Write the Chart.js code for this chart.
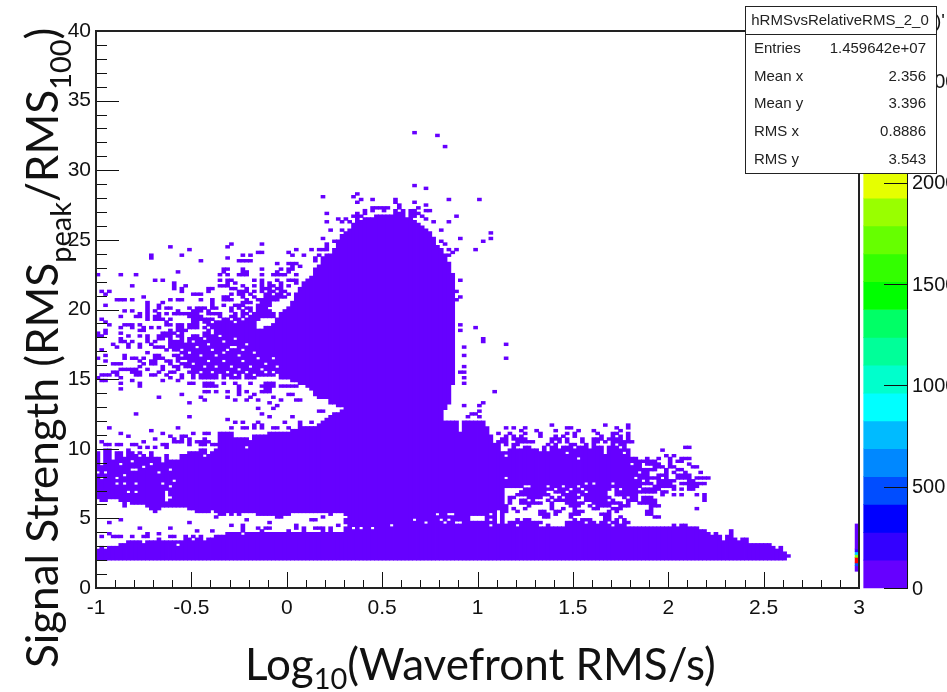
<!DOCTYPE html>
<html>
<head>
<meta charset="utf-8">
<script src="https://cdn.jsdelivr.net/npm/chart.js@4"></script>
<style>
html, body { margin: 0; padding: 0; background: #fff; overflow: hidden; }
#wrap { width: 947px; height: 692px; }
</style>
</head>
<body>
<div id="wrap"><canvas id="c" width="947" height="692"></canvas></div>
<script>
// histogram binning: 200 x 200 bins, x -1..3, y 0..40
const xBinStart = -1, xBinWidth = 0.02, yBinWidth = 0.2;

// tick labels
const xMajorTicks = [-1, -0.5, 0, 0.5, 1, 1.5, 2, 2.5, 3];
const yMajorTicks = [0, 5, 10, 15, 20, 25, 30, 35, 40];
const paletteTicks = [0, 500, 1000, 1500, 2000, 2500];
const statsNames = ["Entries", "Mean x", "Mean y", "RMS x", "RMS y"];
const statsValues = ["1.459642e+07", "2.356", "3.396", "0.8886", "3.543"];

// top of the low band, one value per x bin from bin 0, all start at y = 2
const bandTop = [
  2.8,3.0,2.8,3.0,3.0,3.0,3.2,3.2,3.4,3.4,3.4,3.4,3.2,3.4,3.4,3.4,3.6,3.4,3.4,3.4,
  3.4,3.4,3.4,3.6,3.6,3.4,3.6,3.6,3.4,3.6,3.6,3.6,3.6,3.8,4.0,4.0,4.0,4.0,3.8,4.0,
  4.0,4.0,4.0,4.0,4.0,4.0,4.0,4.0,4.0,4.0,4.0,4.0,4.0,4.0,4.0,4.0,4.0,4.0,4.0,4.0,
  4.0,4.0,4.0,4.0,4.0,4.0,4.0,4.0,4.0,4.0,4.0,4.0,4.0,4.0,4.0,4.0,4.0,4.0,4.0,4.0,
  4.0,4.0,4.0,4.0,4.0,4.0,4.0,4.0,4.0,4.0,4.0,4.0,4.2,4.2,4.2,4.2,4.2,4.2,4.2,4.2,
  4.2,4.2,4.2,4.2,4.2,4.4,4.4,4.4,4.4,4.4,4.4,4.4,4.4,4.4,4.4,4.4,4.4,4.4,4.4,4.4,
  4.4,4.4,4.4,4.4,4.4,4.4,4.4,4.4,4.4,4.4,4.4,4.4,4.4,4.4,4.4,4.4,4.4,4.4,4.4,4.4,
  4.4,4.4,4.4,4.4,4.4,4.4,4.4,4.4,4.4,4.4,4.4,4.4,4.4,4.4,4.4,4.4,4.4,4.4,4.2,4.2,
  4.0,3.8,4.0,3.8,3.4,3.8,4.2,3.6,3.4,3.6,3.6,3.2,3.2,3.2,3.2,3.2,3.2,3.0,2.8,3.0,
  2.6
];

// left wing around y = 8, bins 0..106
const wingLow = [
  6.4,6.2,6.2,6.4,6.4,6.4,6.2,5.8,6.2,6.0,6.0,6.0,6.0,5.8,5.6,5.4,5.6,5.8,5.8,5.8,
  5.8,5.8,5.8,5.8,5.6,5.6,5.4,5.4,5.4,5.4,5.6,5.4,5.2,5.2,5.4,5.2,5.4,5.2,5.4,5.4,
  5.4,5.4,5.2,5.2,5.2,5.2,5.2,5.0,5.0,5.2,5.2,5.4,5.4,5.4,5.4,5.4,5.4,5.4,5.4,5.4,
  5.4,5.4,5.4,5.4,5.4,4.0,4.0,4.0,4.0,4.0,4.0,4.0,4.0,4.0,4.0,4.0,4.0,4.0,4.0,4.0,
  4.0,4.0,4.0,4.0,4.0,4.0,4.0,4.0,4.0,4.0,4.0,4.0,4.0,4.0,4.0,4.0,4.0,4.0,4.0,4.0,
  4.0,4.0,4.0,4.0,4.0,4.0,4.0
];
const wingHigh = [
  9.8,9.0,10.0,10.0,9.2,9.8,9.8,9.4,10.0,9.8,9.6,9.8,9.6,9.4,9.8,9.4,9.4,9.0,9.6,9.2,
  9.2,9.2,9.6,9.6,9.8,9.8,9.8,10.0,10.0,9.6,9.8,10.0,11.2,11.2,11.2,11.2,10.8,10.8,10.8,10.8,
  10.6,11.0,11.0,11.0,11.0,11.2,11.2,11.2,11.2,11.2,11.2,11.4,11.4,11.4,11.6,11.6,11.6,11.6,11.8,12.0,
  12.2,12.4,12.6,12.6,12.8,13.0,13.0,13.0,13.0,13.0,13.0,13.0,13.0,13.0,13.0,13.0,13.0,13.0,13.0,13.0,
  13.0,13.0,13.0,13.0,13.0,13.0,13.0,13.0,13.0,13.0,13.0,12.0,12.0,12.0,12.0,12.0,12.0,12.0,12.0,12.0,
  12.0,12.0,11.6,11.0,10.4,10.2,9.8
];

// main lobe, bins 42..93
const coreStart = 42;
const coreLow = [
  15.2,15.2,15.2,15.2,15.2,15.2,15.0,15.0,15.0,14.8,14.8,14.6,14.6,14.4,14.2,13.8,13.6,13.6,13.6,13.2,
  13.2,13.0,13.0,12.8,4.0,4.0,4.0,4.0,4.0,4.0,4.0,4.0,4.0,4.0,4.0,4.0,4.0,4.0,4.0,4.0,
  4.0,4.0,4.0,4.0,4.0,4.0,4.0,4.0,4.0,12.8,13.2,14.6
];
const coreHigh = [
  18.6,18.6,18.8,18.8,19.0,19.4,19.8,20.0,20.2,20.6,21.0,21.6,22.0,22.2,22.4,23.0,23.2,23.8,24.0,24.0,
  24.2,25.0,25.4,25.6,25.8,26.2,26.4,26.4,26.6,26.6,26.6,26.6,26.6,26.6,26.6,26.8,26.8,26.8,26.8,26.6,
  26.6,26.4,26.2,26.0,25.8,25.6,25.2,24.6,24.4,24.0,23.4,22.6
];

// dense patch left of the lobe, bins 23..41
const patchStart = 23;
const patchLow = [15.6,15.4,15.0,15.2,15.0,15.0,15.0,15.0,15.0,15.2,15.0,15.2,15.0,15.0,15.0,15.2,15.0,15.0,15.0];
const patchHigh = [17.6,18.0,18.2,18.2,18.0,18.4,18.6,18.2,18.6,18.8,19.0,19.0,18.8,19.0,19.2,19.2,19.2,19.2,19.4];

// right wing, bins 107..143
const rightStart = 107;
const rightLow = [
  7.2,7.2,7.2,7.2,7.2,7.2,7.2,7.2,7.2,7.2,7.2,7.2,7.2,7.2,7.2,7.2,7.2,7.2,7.2,7.2,
  7.2,7.2,7.2,7.2,7.2,7.2,7.2,7.2,7.2,7.2,7.2,7.2,7.4,7.6,8.0,8.4,8.8
];
const rightHigh = [
  10.0,10.0,10.2,10.0,10.0,10.2,10.2,10.0,10.0,10.0,10.2,10.0,10.2,10.2,10.0,10.2,10.2,10.2,10.0,10.2,
  10.2,10.2,10.0,10.2,10.2,10.2,10.0,10.2,10.2,10.2,10.0,10.2,10.0,9.6,9.4,9.2,8.8
];

// single filled bins, each row is [y bin, x bins...]
const scatterLeft = [
  [123,35,43],[122,19,34],[121,24,52,56],[120,42,43,50],[119,14,22,38,40,51,54],[118,14,34],
  [117,27,37,38,39,40],[116,47,50,51,52],[114,33,34,38,43,48,50,51],[113,21,33,38,39,47,50],
  [112,0,6,10,32,34,37,38,39,43,46,47,48,49,52],[110,15,17,32,34,35,41,43,47,50,51,52],
  [109,20,34,36,43,45,48,52],[108,9,20,23,32,33,34,38,41,43,45,46,48,50],
  [107,20,22,29,30,35,36,39,43,44,45,47,48],[106,1,3,22,29,37,38,39,41,43,45,46,48,49],
  [105,2,25,26,27,35,37,38,40,44,45,47,48,50,52],[104,12,33,34,38,41,44,45,46,47,48,49],
  [103,5,6,7,9,19,21,22,27,30,33,34,35,39,42,43,44,45,46,47],[102,13,17,30,38,39,40,43,44,45],
  [101,2,13,16,30,33,36,37,38,42,43,44,45],[100,13,16,18,19,24,26,27,28,30,31,35,37,39,40,42,43,44],
  [99,7,9,13,15,21,25,26,27,29,35,38,40,42,43,44,45],
  [98,11,13,16,18,20,21,22,23,24,25,26,29,30,31,32,36,38,39,41,42,43,44,45,46],
  [97,6,10,11,13,15,16,24,25,26,27,32,35,36,38,40,41,42,43,44,45,46],
  [96,1,13,15,16,17,19,25,26,27,28,29,30,33,34,36,37,39,40,41,42],
  [95,2,18,25,26,28,29,31,32,33,34,35,37,38,39,40,41],
  [94,3,7,8,9,11,18,19,21,22,24,25,26,29,30,31,32,33,34,35],
  [93,6,9,12,14,16,21,22,24,25,26,28,30,31,32],[92,2,11,12,19,21,22,23],
  [91,0,2,6,17,18,19,20,22],[90,0,1,8,11,13,16,17,18,19,21,22],[89,6,13,16,17,19,22],
  [88,6,7,9,13,15,19,20,21,22],[87,4,8,11,14,19,20,21,22],[86,5,8,11,15,16,17,19,20,21,22],
  [85,1,18,20,21],[84,13,22],[83,2,7,15,16,20,21],[82,0,7,9,10,12,15,16,17,21,22],
  [81,2,11,14,15,18,19,21],[80,4,5,6,12,14,15,19,22],[79,11,17,20,21],[78,6,7,8,9,10,13,17,21],
  [77,4,5,9,10,11,16,19,20],[76,1,2,3,5,10,11,14,15,18,22],[75,0,6,19,22],[74,1,2,9,17,21],
  [73,6,11,24,25,28,29,30,33,36,40,44,45,46],
  [72,11,28,29,30,31,37,43,44,45,46,48,49,50,51,52],[71,6,37,44,45],
  [70,28,29,31,34,37,39,43,44,45],[69,22,37,41,50,51],[68,16,27,34,40,46],
  [67,28,36,39,42,48,52,53],[66,24,45],[65,47],[64,42,46],[63,58,59],[62,10,43],[61,24,45,51],
  [60,34],[59,36,38,42,49,53,56],[58,41,43,53],[57,3,21,35,38,39,41,43,46,47,50,53],[56,14],
  [55,6,17,25,28,29],[54,8,19,22,23],[53,15,20,22,24,28],[52,1,12,20,21,22,24,26,27,28,29],
  [51,2,3,5,6,9,10,17,18,24,27,28,30,31],[50,11,13,15,18]
];
const scatterLobe = [
  [163,83],[162,89],[158,91],[144,83],[143,86],[141,68],[140,59,67],
  [139,69,72,78,92,100],[138,68,78,83],[137,79,86],[136,72,73,74,75,76,79,84],
  [135,70,72,75,78,80,82,83,86,87],[134,60,68,70,78,79,80,82,83,84],
  [133,67,68,69,73,74,75,76,77,78,79,80,82,83,85,94],[132,63,65,68,72,73,75,76,77,78,79,80,81,86],
  [131,60,64,66,88,92],[128,61,64,90],[127,103],[125,59,95,103],[124,62,90,101],
  [123,60,91],[122,60],[121,52,56,58,59,60,62,92,94,99],[120,93],[119,51,54,58,92],
  [118,57],[117,57],[116,51],[115,51,53],[110,95],[106,94],[104,95],[103,94]
];
const scatterRightOfLobe = [
  [94,95],[93,99],[92,95],[89,101],[88,101],[87,107],[86,93,96],[83,96],[82,107],[79,96],
  [77,95,96],[75,96],[73,96],[70,104],[66,101],[65,96,100],[63,100],[62,98,99],[61,97,100]
];
const scatterStrip = [
  [26,61],[25,31,59],[24,6,39,56,57],[23,3,24,45],[22,35,38,52,63],
  [21,11,19,38,42,44,45,52,54,57,58,59,61],[20,26,30,38,43,50,54,59,61],
  [19,3,13,16],[18,1,4,5,6,9,12,13,19,20,23,25,27,31,32]
];
const scatterRight = [
  [58,119,133,139],[57,107,109,112,123,124,136,139],[56,111,115,120,126,130,137],
  [55,105,108,112,116,123,125,131,135,136,139],[54,103,107,109,111,116,120,122,125,132,135,137,139],
  [53,103,106,107,109,110,111,112,119,120,121,123,127,130,131,132,134,135,136,137,139],
  [52,103,105,106,107,110,111,112,113,114,119,121,123,127,130,131,133,135,136,137,138,139,140],
  [51,103,105,107,109,110,118,120,124,125,128,130,135,137,138],
  [35,112,113,114,115,116,117,118,119,121,122,123,125,126,128,129,130,131,132,133,134,136,138,139,140,141],
  [34,111,112,113,114,115,116,117,120,121,122,124,125,126,127,129,130,131,132,133,136,137,138,139,140,141],
  [33,110,111,112,113,114,115,116,117,118,122,123,124,125,127,128,129,130,131,132,133,136,137,138,139,140,141],
  [32,108,109,113,114,115,116,119,121,123,124,125,126,128,129,130,131,132,133,134,138,140,141],
  [31,108,111,112,114,118,120,121,122,123,124,125,128,129,130,131,132,133,135,139,140,141],
  [30,108,111,112,113,114,115,116,119,123,124,125,126,127,130,131,132,133,134,135,136,137,139,142],
  [29,107,113,119,124,125,126,129,131,132,133,134,137,138,139],
  [28,107,109,112,119,122,125,130,131,135,136,137],
  [27,107,110,116,117,120,121,125,126,127,134,136],
  [26,116,117,118,120,124,125,126,132,133,134],
  [25,117,118,124,133,134,137],
  [24,110,112,113,125,127,128,129,133,134,136,138],
  [23,108,109,110,111,112,113,114,115,116,123,124,125,126,127,129,130,132,133,135,136,138,139],
  [22,107,108,109,111,112,113,114,115,118,123,124,125,126,127,128,129,130,131,132,133,134,136,137,138,151,153,154]
];
const scatterFarRight = [
  [50,154,155],[49,148],[47,149,151],[46,144,147,150,153,154,155],[45,143,144,145,146,150,152,153],
  [44,142,144,145,146,147,150,155],[43,146,147,148,150,151,156,157],[42,143,144,145,146,149,152,153],
  [41,143,144,149,151,154,158],[40,141,142,143,144,147,148,149,152,153,154,155],
  [39,140,142,143,144,145,146,147,149,152,153,154,155,157,158,159,160],
  [38,141,142,144,147,148,149,150,151,155,156],
  [37,140,141,142,143,144,145,147,148,149,150,153,154,155,156,157,158,159],
  [36,139,140,141,142,146,147,148,149,150,151,155,156,157],[35,141,143,144,145,146,147,151,153,155,156],
  [34,140,141,142,143,144,145,146,148,149],[33,148,151,153,157,159],[32,143,144,145,159],
  [31,143,144,145,146,159],[30,143,144,145,146],[29,145,146,147],[28,145,157],[27,144,145],
  [26,144,145],[25,146,147],[11,181]
];
// empty bins inside the filled regions, [x bin, y bin]
const emptyBins = [
  [1,47],[1,44],[0,41],[2,41],[4,47],[7,47],[6,44],[9,45],[11,47],[12,43],[14,44],[9,42],[10,42],[16,41],
  [19,42],[7,40],[1,39],[5,39],[5,37],[7,37],[10,37],[17,37],[19,36],[20,38],[8,34],[10,34],
  [18,34],[18,33],[18,32],[18,31],[19,32],[19,46],[20,46],[21,46],[28,47],[21,15],[39,50],
  [65,25],[65,22],[67,21],[69,21],[72,21],[77,22],[83,24],[86,23],
  [89,26],[92,26],[93,26],[90,24],[92,24],[91,23],[94,23],[95,23],[98,25],[99,25],[100,25],[101,25],
  [98,24],[99,24],[100,24],[101,24],[103,26],[103,24],[103,22],[105,27],[105,26],[105,25],[105,24],[105,23],
  [95,59],[95,58],[95,57],[95,56],[102,59],[103,57],
  [107,49],[107,47],[107,39],[126,46],[123,48],[133,49],[133,48],[116,49],[118,49],[138,48],[140,47],
  [112,36],[113,36],[118,36],[122,36],[126,36],[130,37],[135,37],[128,37],[140,44],
  [25,88],[28,89],[32,90],[33,88],[36,89],[39,87],[26,86],[30,85],[34,85],[24,84],[27,83],[31,83],[35,86],
  [37,83],[29,81],[33,81],[38,81],[41,84],[25,80],[28,79],[31,79],[35,79],[40,79],[42,82],[24,78],[27,77],
  [30,77],[34,77],[37,78],[39,77],[43,78],[26,76],[32,76],[36,76],[38,76],[41,76],[44,77],[46,77],[47,76],
  [47,79],[23,81],[23,78],[36,86],[29,87],[38,85],[33,84],[44,80],[46,82]
];

// last column at x = 3, filled bins with a hotter colour
const edgeLow = [1.2, 1.6, 1.8, 2.2, 2.4, 2.6, 2.8];
const edgeHigh = [1.6, 1.8, 2.2, 2.4, 2.6, 2.8, 4.6];
const edgeColors = ["#6600ff", "#0055ff", "#ff0000", "#88ff00", "#00ccff", "#3300ff", "#6600ff"];

// colour bar, 20 levels
const paletteMax = 2749;
const paletteColors = [
  "#6600ff","#3300ff","#0000ff","#004dff","#0088ff","#00bbff","#00ffff","#00ffcc","#00ff99","#00ff66",
  "#00ff00","#33ff00","#66ff00","#99ff00","#e6ff00","#ffff00","#ffcc00","#ff9900","#ff6600","#ff0000"
];

const filled = [];
for (let i = 0; i < 200; i++) filled.push(new Set());
function addSpan(i, lo, hi) {
  const a = Math.round(lo / yBinWidth), b = Math.round(hi / yBinWidth);
  for (let j = a; j < b; j++) filled[i].add(j);
}
bandTop.forEach((top, i) => addSpan(i, 2, top));
wingHigh.forEach((top, i) => addSpan(i, wingLow[i], top));
coreHigh.forEach((top, k) => addSpan(coreStart + k, coreLow[k], top));
patchHigh.forEach((top, k) => addSpan(patchStart + k, patchLow[k], top));
rightHigh.forEach((top, k) => addSpan(rightStart + k, rightLow[k], top));
[scatterLeft, scatterLobe, scatterRightOfLobe, scatterStrip, scatterRight, scatterFarRight].forEach(rows => {
  rows.forEach(r => r.slice(1).forEach(i => filled[i].add(r[0])));
});
emptyBins.forEach(b => filled[b[0]].delete(b[1]));

// contiguous y bins of a column become one floating bar
const histBars = [];
filled.forEach((set, i) => {
  const js = Array.from(set).sort((a, b) => a - b);
  let k = 0;
  while (k < js.length) {
    let e = k;
    while (e + 1 < js.length && js[e + 1] === js[e] + 1) e++;
    histBars.push({x: xBinStart + (i + 0.5) * xBinWidth, y: [js[k] * yBinWidth, (js[e] + 1) * yBinWidth]});
    k = e + 1;
  }
});
const edgeBars = edgeLow.map((lo, k) => ({x: 2.99, y: [lo, edgeHigh[k]]}));
const paletteBars = paletteColors.map((c, k) => ({
  x: 3.14, y: [k * paletteMax / paletteColors.length, (k + 1) * paletteMax / paletteColors.length]
}));

const titleFont = "Lato, 'Open Sans', sans-serif";
const labelFont = "'Liberation Sans', Arial, sans-serif";

function drawPieces(ctx, pieces) {
  let pos = 0;
  pieces.forEach(p => {
    ctx.font = p.size + "px " + titleFont;
    ctx.fillText(p.text, pos, p.shift);
    pos += ctx.measureText(p.text).width;
  });
}

const decorPlugin = {
  id: "rootDecor",
  afterDraw(chart) {
    const ctx = chart.ctx, a = chart.chartArea, xs = chart.scales.x, ys = chart.scales.y, zs = chart.scales.z;
    ctx.save();
    ctx.strokeStyle = "#111";
    ctx.lineWidth = 1;
    ctx.beginPath();
    // inward ticks, minor every 0.1 and every 1
    for (let k = 0; k <= 40; k++) {
      const px = Math.round(xs.getPixelForValue(-1 + k * 0.1)) + 0.5;
      const len = k % 5 === 0 ? 16 : 8;
      ctx.moveTo(px, a.bottom);
      ctx.lineTo(px, a.bottom - len);
      const py = Math.round(ys.getPixelForValue(k)) + 0.5;
      const ylen = k % 5 === 0 ? 23 : 11;
      ctx.moveTo(a.left, py);
      ctx.lineTo(a.left + ylen, py);
    }
    ctx.stroke();
    // frame
    ctx.lineWidth = 2;
    ctx.strokeStyle = "#222";
    ctx.strokeRect(a.left, a.top, a.right - a.left, a.bottom - a.top);

    // colour bar axis
    ctx.lineWidth = 1;
    ctx.strokeStyle = "#111";
    ctx.beginPath();
    ctx.moveTo(907.5, a.top);
    ctx.lineTo(907.5, a.bottom);
    paletteTicks.forEach(t => {
      const py = Math.round(zs.getPixelForValue(t)) + 0.5;
      ctx.moveTo(884, py);
      ctx.lineTo(908, py);
    });
    ctx.stroke();
    ctx.fillStyle = "#111";
    ctx.font = "20px " + labelFont;
    ctx.textAlign = "left";
    ctx.textBaseline = "middle";
    paletteTicks.forEach(t => ctx.fillText(String(t), 912, zs.getPixelForValue(t) + 1));
    // end of the hidden title, peeking out behind the stats box
    ctx.textBaseline = "alphabetic";
    ctx.font = "19px " + labelFont;
    ctx.fillText(")'", 935, 27);

    // axis titles with subscripts
    ctx.save();
    ctx.translate(58, 668);
    ctx.rotate(-Math.PI / 2);
    drawPieces(ctx, [
      {text: "Signal Strength (RMS", size: 44, shift: 0},
      {text: "peak", size: 29, shift: 13},
      {text: "/RMS", size: 44, shift: 0},
      {text: "100", size: 29, shift: 13},
      {text: ")", size: 44, shift: 0}
    ]);
    ctx.restore();
    ctx.save();
    ctx.translate(245, 680);
    drawPieces(ctx, [
      {text: "Log", size: 44, shift: 0},
      {text: "10", size: 29, shift: 9},
      {text: "(Wavefront RMS/s)", size: 44, shift: 0}
    ]);
    ctx.restore();

    // stats box
    ctx.fillStyle = "#fff";
    ctx.fillRect(745, 6, 191, 167);
    ctx.strokeStyle = "#222";
    ctx.lineWidth = 1;
    ctx.strokeRect(745.5, 6.5, 191, 167);
    ctx.beginPath();
    ctx.moveTo(745, 34.5);
    ctx.lineTo(937, 34.5);
    ctx.stroke();
    ctx.fillStyle = "#222";
    ctx.textBaseline = "middle";
    ctx.textAlign = "center";
    ctx.font = "15px " + labelFont;
    ctx.fillText("hRMSvsRelativeRMS_2_0", 840, 21);
    const rowY = [49, 77, 104, 132, 160];
    statsNames.forEach((name, k) => {
      ctx.textAlign = "left";
      ctx.fillText(name, 754, rowY[k]);
      ctx.textAlign = "right";
      ctx.fillText(statsValues[k], 926, rowY[k]);
    });
    ctx.restore();
  }
};

new Chart(document.getElementById("c"), {
  type: "bar",
  data: {
    datasets: [
      {data: paletteBars, backgroundColor: paletteColors, yAxisID: "z", barThickness: 44, clip: false},
      {data: histBars, backgroundColor: "#6600ff", barThickness: 4},
      {data: edgeBars, backgroundColor: edgeColors, barThickness: 4}
    ]
  },
  options: {
    responsive: false,
    animation: false,
    parsing: {xAxisKey: "x", yAxisKey: "y"},
    layout: {padding: {top: 31, right: 88, left: 0, bottom: 0}},
    datasets: {bar: {grouped: false}},
    plugins: {legend: {display: false}, tooltip: {enabled: false}, title: {display: false}},
    scales: {
      x: {
        type: "linear",
        offset: false,
        min: -1,
        max: 3,
        grid: {display: false, drawTicks: false, offset: false},
        border: {display: false},
        afterBuildTicks: s => { s.ticks = xMajorTicks.map(v => ({value: v})); },
        afterFit: s => { s.height = 104; },
        ticks: {
          padding: 8,
          autoSkip: false,
          maxRotation: 0,
          color: "#111",
          font: {family: "'Liberation Sans', Arial, sans-serif", size: 21},
          callback: v => String(v)
        }
      },
      y: {
        min: 0,
        max: 40,
        grid: {display: false, drawTicks: false},
        border: {display: false},
        afterBuildTicks: s => { s.ticks = yMajorTicks.map(v => ({value: v})); },
        afterFit: s => { s.width = 96; },
        ticks: {
          padding: 5,
          autoSkip: false,
          color: "#111",
          font: {family: "'Liberation Sans', Arial, sans-serif", size: 21},
          callback: v => String(v)
        }
      },
      z: {position: "right", display: false, min: 0, max: paletteMax}
    }
  },
  plugins: [decorPlugin]
});
</script>
</body>
</html>
